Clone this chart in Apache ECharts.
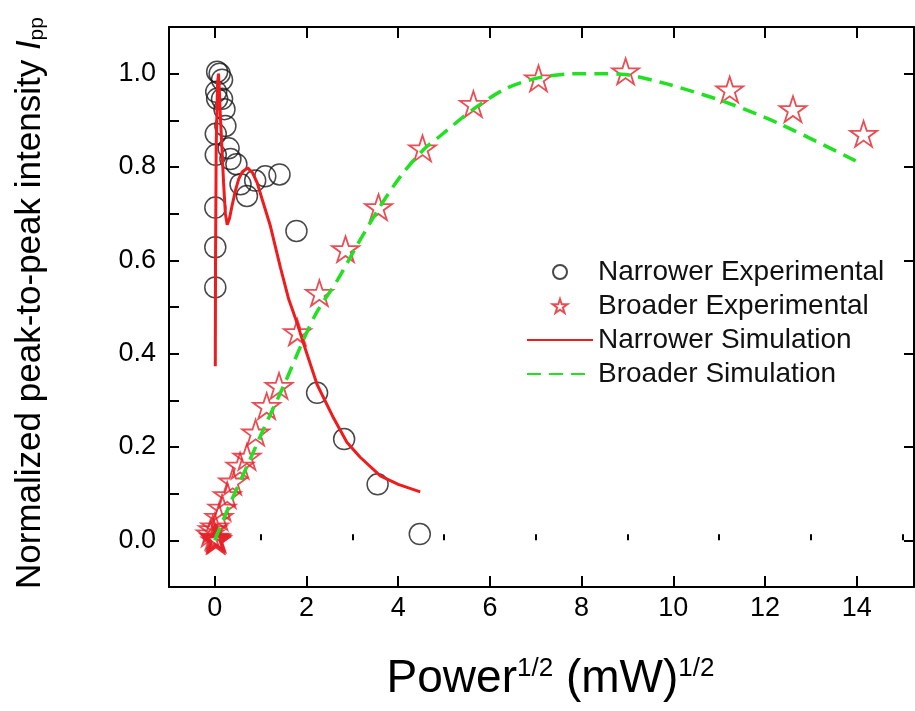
<!DOCTYPE html>
<html><head><meta charset="utf-8">
<script src="https://cdn.jsdelivr.net/npm/echarts@6/dist/echarts.min.js"></script>
<style>html,body{margin:0;padding:0;background:#fff}#c{width:915px;height:711px}</style>
</head><body><div id="c"></div>
<script>
// Narrower Experimental (circles): [x, y]
const narrowExpX = [0.05,0.105,0.157,0.03,0.05,0.157,0.21,0.23,0.02,0.30,0.02,0.34,0.47,0.56,0.70,0.88,1.10,1.41,0.01,1.78,0.01,0.01,2.23,2.82,3.55,4.47];
const narrowExpY = [1.004,1.0,0.987,0.961,0.946,0.946,0.924,0.888,0.871,0.840,0.826,0.817,0.806,0.763,0.738,0.771,0.780,0.784,0.713,0.663,0.628,0.542,0.316,0.217,0.120,0.0135];
// Broader Experimental (stars)
const broadExpX = [14.15,12.61,11.23,8.96,7.06,5.64,4.53,3.57,2.85,2.28,1.80,1.40,1.13,0.89,0.70,0.55,0.39,0.27,0.157,0.09,0.0,-0.05,-0.1,0.03,0.05,-0.02,0.01,0.02,0.0,0.03];
const broadExpY = [0.871,0.924,0.966,1.005,0.99,0.935,0.84,0.714,0.624,0.53,0.446,0.331,0.288,0.231,0.179,0.16,0.126,0.097,0.07,0.05,0.03,0.024,0.015,0.006,0.003,0.008,0.0,0.004,0.006,0.0];
// Narrower Simulation (red line)
const narrowSimX = [0.01,0.015,0.03,0.06,0.08,0.1,0.12,0.155,0.19,0.23,0.27,0.32,0.375,0.45,0.52,0.6,0.715,0.82,0.92,1.05,1.21,1.43,1.61,1.79,1.94,2.23,2.59,2.88,3.17,3.61,4.0,4.48];
const narrowSimY = [0.373,0.6,0.85,0.98,1.0,0.96,0.91,0.84,0.767,0.70,0.676,0.69,0.717,0.75,0.774,0.79,0.798,0.788,0.767,0.725,0.674,0.585,0.517,0.467,0.42,0.334,0.262,0.21,0.178,0.138,0.12,0.104];
// Broader Simulation (green dashed)
const broadSimX = [0,0.08,0.41,0.74,1.06,1.5,1.97,2.23,2.67,3.1,3.57,4.05,4.53,4.92,5.64,6.37,7.1,7.97,8.41,8.95,9.86,11.17,12.33,14.04];
const broadSimY = [0,0.02,0.096,0.167,0.238,0.331,0.438,0.49,0.557,0.632,0.71,0.78,0.835,0.867,0.924,0.969,0.992,1.0,1.0,0.998,0.978,0.938,0.892,0.81];
// Tick labels
const xTickLabels = [0,2,4,6,8,10,12,14];
const xMinorTicks = [1,3,5,7,9,11,13,15];
const yTickLabels = [0,0.2,0.4,0.6,0.8,1.0];
const seriesNames = ['Narrower Experimental','Broader Experimental','Narrower Simulation','Broader Simulation'];

const zip = (xs, ys) => xs.map((x, i) => [x, ys[i]]);
const STAR = 'path://M100,0L122.45,69.1L195.1,69.1L136.3,111.8L158.8,180.9L100,138.2L41.2,180.9L63.7,111.8L4.9,69.1L77.55,69.1Z';
const F = "'Liberation Sans', Arial, sans-serif";
const axisLine = {show: true, onZero: false, lineStyle: {color: '#000', width: 2}};
const noFill = 'rgba(0,0,0,0)';

const chart = echarts.init(document.getElementById('c'), null, {renderer: 'canvas'});
chart.setOption({
  animation: false,
  backgroundColor: '#fff',
  grid: {left: 169, right: 1, top: 27, bottom: 124, containLabel: false},
  legend: {
    orient: 'vertical', left: 521, top: 253, itemWidth: 66, itemHeight: 14, itemGap: 6,
    data: seriesNames,
    textStyle: {fontFamily: F, fontSize: 28, color: '#111'}
  },
  xAxis: [
    {type: 'value', position: 'bottom', min: -1, max: 15.25, axisLine,
     splitLine: {show: false},
     axisTick: {show: true, inside: true, length: 11, customValues: xTickLabels, lineStyle: {color: '#000', width: 2}},
     axisLabel: {customValues: xTickLabels, fontFamily: F, fontSize: 27, color: '#000', margin: 8},
     name: '{t|Power}{u|1/2}{t| (mW)}{u|1/2}', nameLocation: 'middle', nameGap: 69,
     nameTextStyle: {padding: [0, 0, 0, 18], rich: {
       t: {fontFamily: F, fontSize: 46, color: '#000'},
       u: {fontFamily: F, fontSize: 26, color: '#000', verticalAlign: 'top'}
     }}},
    {type: 'value', position: 'bottom', min: -1, max: 15.25, axisLine: {show: false},
     splitLine: {show: false}, axisLabel: {show: false},
     axisTick: {show: true, inside: true, length: 6, customValues: xMinorTicks, lineStyle: {color: '#000', width: 2}}},
    {type: 'value', position: 'top', min: -1, max: 15.25, axisLine,
     splitLine: {show: false}, axisLabel: {show: false},
     axisTick: {show: true, inside: true, length: 11, customValues: xTickLabels, lineStyle: {color: '#000', width: 2}}}
  ],
  yAxis: [
    {type: 'value', position: 'left', min: -0.1, max: 1.1, interval: 0.1, axisLine,
     splitLine: {show: false},
     axisTick: {show: true, inside: true, length: 10, lineStyle: {color: '#000', width: 2}},
     axisLabel: {customValues: yTickLabels, formatter: v => v.toFixed(1), fontFamily: F, fontSize: 27, color: '#000', margin: 13},
     name: '{t|Normalized peak-to-peak intensity }{i|I}{s|pp}', nameLocation: 'middle', nameRotate: 90, nameGap: 121,
     nameTextStyle: {padding: [0, 0, 0, 8], rich: {
       t: {fontFamily: F, fontSize: 35, color: '#000'},
       i: {fontFamily: F, fontSize: 35, color: '#000', fontStyle: 'italic'},
       s: {fontFamily: F, fontSize: 21, color: '#000', verticalAlign: 'bottom'}
     }}},
    {type: 'value', position: 'right', min: -0.1, max: 1.1, interval: 0.1, axisLine,
     splitLine: {show: false}, axisLabel: {show: false},
     axisTick: {show: true, inside: true, length: 10, customValues: yTickLabels, lineStyle: {color: '#000', width: 2}}}
  ],
  series: [
    {name: seriesNames[0], type: 'scatter', data: zip(narrowExpX, narrowExpY), symbol: 'circle', symbolSize: 21,
     itemStyle: {color: noFill, borderColor: '#1a1a1a', borderWidth: 1.5}, z: 2},
    {name: seriesNames[1], type: 'scatter', data: zip(broadExpX, broadExpY), symbol: STAR, symbolSize: 27, symbolKeepAspect: true,
     itemStyle: {color: noFill, borderColor: '#e5222a', borderWidth: 1.8}, z: 3},
    {name: seriesNames[2], type: 'line', data: zip(narrowSimX, narrowSimY), symbol: 'none', showSymbol: false,
     lineStyle: {color: '#ee1c1c', width: 3}, itemStyle: {color: noFill, borderWidth: 0, opacity: 0}, z: 4},
    {name: seriesNames[3], type: 'line', data: zip(broadSimX, broadSimY), symbol: 'none', showSymbol: false, smooth: 0.3,
     lineStyle: {color: '#22e022', width: 3.5, type: [14, 8]}, itemStyle: {color: noFill, borderWidth: 0, opacity: 0}, z: 5}
  ]
});
</script>
</body></html>
